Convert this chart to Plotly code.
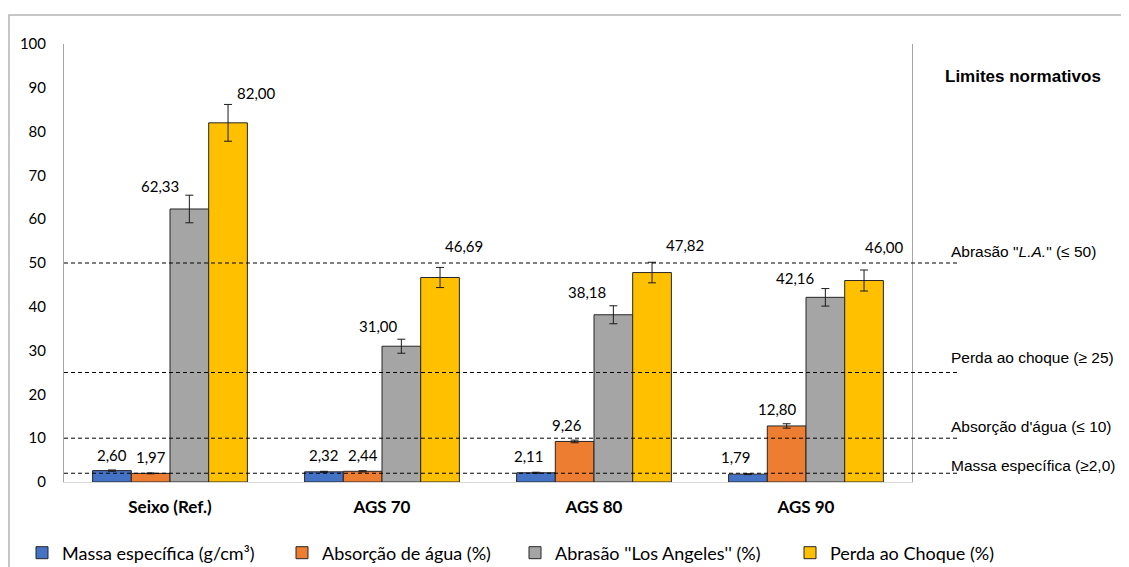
import plotly.graph_objects as go

categories = ["Seixo (Ref.)", "AGS 70", "AGS 80", "AGS 90"]
series_names = ["Massa específica (g/cm³)", "Absorção de água (%)",
                "Abrasão ''Los Angeles'' (%)", "Perda ao Choque (%)"]
massa = [2.60, 2.32, 2.11, 1.79]
absorcao = [1.97, 2.44, 9.26, 12.80]
abrasao = [62.33, 31.00, 38.18, 42.16]
perda = [82.00, 46.69, 47.82, 46.00]
massa_err = [0.15, 0.12, 0.12, 0.1]
absorcao_err = [0.1, 0.15, 0.3, 0.5]
abrasao_err = [3.15, 1.6, 2.05, 2.0]
perda_err = [4.2, 2.3, 2.35, 2.4]
y_ticks = [0, 10, 20, 30, 40, 50, 60, 70, 80, 90, 100]

limit_values = [50, 25, 10, 2.0]
limit_labels = ['Abrasão "<i>L.A.</i>" (≤ 50)', "Perda ao choque (≥ 25)",
                "Absorção d'água (≤ 10)", "Massa específica (≥2,0)"]

colors = ["#4472C4", "#ED7D31", "#A5A5A5", "#FFC000"]
values = [massa, absorcao, abrasao, perda]
errors = [massa_err, absorcao_err, abrasao_err, perda_err]

# label placement (style): pixel offsets from bar-top centre, [series][category]
label_dx = [[0, 0, -7, -12], [0, 0, -8, -9], [-29, -23, -26, -30], [28, 24, 33, 20]]
label_dy = [[16, 17, 17, 17], [16, 16, 16.5, 17], [23, 20, 23, 19], [30, 31.5, 27.5, 33.5]]
limit_dy = [12, 15, 12, 8]
legend_marker_px = [46, 306, 539, 814]

# page geometry (the page body has an 8px default margin)
OFF = 8
PAGE_W, PAGE_H = 1129, 567
PL, PR, PT, PB = 64, 912, 44, 482       # plot area in page pixels
W, H = PAGE_W - OFF, PAGE_H - OFF
plot_w = PR - PL
plot_h = PB - PT
ML, MT = PL - OFF, PT - OFF
MR, MB = W - ML - plot_w, H - MT - plot_h
bargap = 0.27
bar_px = plot_w / len(categories) * (1 - bargap) / 4


def px_x(p):
    return (p - PL) / plot_w


def px_y(p):
    return (PB - p) / plot_h


FONT = "Lato"
ARIAL = "Liberation Sans, Arial"

fig = go.Figure()
legend_ids = ["legend", "legend2", "legend3", "legend4"]
for i in range(4):
    fig.add_trace(go.Bar(
        x=categories, y=values[i], name=series_names[i],
        marker=dict(color=colors[i], line=dict(color="#262626", width=1)),
        error_y=dict(type="data", array=errors[i], color="#1a1a1a",
                     thickness=1, width=4),
        legend=legend_ids[i],
    ))

annotations = []
for i in range(4):
    for j, c in enumerate(categories):
        annotations.append(dict(
            x=c, y=values[i][j], xref="x", yref="y",
            text=f"{values[i][j]:.2f}".replace(".", ","),
            showarrow=False, xanchor="center", yanchor="middle",
            xshift=(i - 1.5) * bar_px + label_dx[i][j], yshift=label_dy[i][j],
            font=dict(family=FONT, size=15, color="#000000"),
        ))

shapes = []
for k, v in enumerate(limit_values):
    shapes.append(dict(type="line", xref="x domain", yref="y domain",
                       x0=0, x1=px_x(960), y0=v / 100, y1=v / 100,
                       line=dict(color="#000000", width=1, dash="4px,3px")))
    annotations.append(dict(
        x=px_x(949), y=v, xref="paper", yref="y",
        text=limit_labels[k], showarrow=False, xanchor="left", yanchor="middle",
        yshift=limit_dy[k],
        font=dict(family=ARIAL, size=15.5, color="#000000"),
    ))

annotations.append(dict(
    x=px_x(943), y=px_y(77), xref="paper", yref="paper",
    text="<b>Limites normativos</b>", showarrow=False, xanchor="left",
    yanchor="middle", font=dict(family=ARIAL, size=17, color="#000000"),
))

# outer chart border
shapes.append(dict(type="rect", xref="paper", yref="paper",
                   x0=px_x(9), x1=px_x(PAGE_W + 20),
                   y0=px_y(PAGE_H + 20), y1=px_y(15),
                   line=dict(color="#B4B4B4", width=1.5), layer="below"))

legend_common = dict(orientation="h", yanchor="middle", y=px_y(553),
                     xanchor="left", bgcolor="rgba(0,0,0,0)",
                     font=dict(family=FONT, size=18, color="#000000"),
                     itemwidth=30)
legends = {}
for i, lid in enumerate(legend_ids):
    legends[lid] = dict(legend_common, x=px_x(legend_marker_px[i] - 4 - 20))

fig.update_layout(
    width=W, height=H,
    margin=dict(l=ML, r=MR, t=MT, b=MB, autoexpand=False),
    barmode="group", bargap=bargap, bargroupgap=0,
    plot_bgcolor="white", paper_bgcolor="white",
    font=dict(family=FONT, size=15, color="#000000"),
    annotations=annotations, shapes=shapes,
    showlegend=True,
    **legends,
)
fig.update_yaxes(range=[0, 100], tickvals=y_ticks, showgrid=False, zeroline=False,
                 showline=True, mirror=True, linecolor="#A6A6A6", linewidth=1,
                 ticks="", ticklabelstandoff=14,
                 tickfont=dict(family=FONT, size=15, color="#000000"))
fig.update_xaxes(showline=True, linecolor="#D9D9D9", linewidth=1, ticks="",
                 ticklabelstandoff=10,
                 tickfont=dict(family=FONT, size=17, color="#000000", weight="bold"))

fig.write_html("out.html")
